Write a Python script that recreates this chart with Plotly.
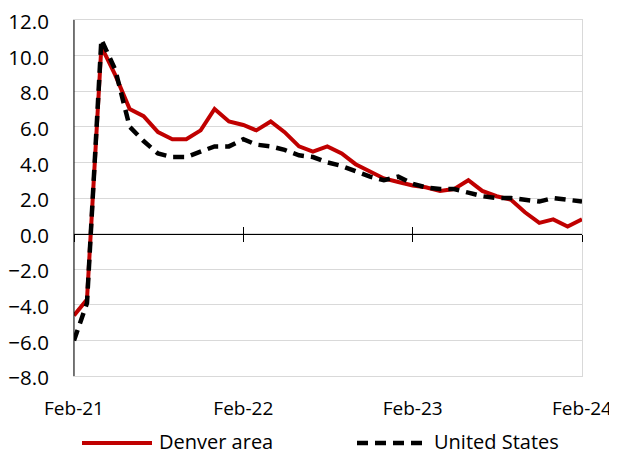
import plotly.graph_objects as go
import pandas as pd

months = pd.date_range("2021-02-01", "2024-02-01", freq="MS").strftime("%Y-%m-%d").tolist()

denver = [-4.6, -3.7, 10.5, 8.9, 7.0, 6.6, 5.7, 5.3, 5.3, 5.8, 7.0, 6.3,
          6.1, 5.8, 6.3, 5.7, 4.9, 4.6, 4.9, 4.5, 3.9, 3.5, 3.1, 2.9,
          2.7, 2.6, 2.4, 2.5, 3.0, 2.4, 2.1, 1.9, 1.2, 0.6, 0.8, 0.4, 0.8]
us = [-6.0, -3.9, 10.9, 9.2, 6.0, 5.2, 4.5, 4.3, 4.3, 4.6, 4.9, 4.9,
      5.3, 5.0, 4.9, 4.7, 4.4, 4.3, 4.0, 3.8, 3.5, 3.2, 3.0, 3.2,
      2.8, 2.6, 2.5, 2.5, 2.3, 2.1, 2.0, 2.0, 1.9, 1.8, 2.0, 1.9, 1.8]

series_names = ["Denver area", "United States"]
series_colors = ["#c00000", "black"]
x_ticks = ["2021-02-01", "2022-02-01", "2023-02-01", "2024-02-01"]
x_range = ["2021-02-01", "2024-02-01"]
y_range = [-8, 12]

# the page body adds an 8px margin, so the figure is sized to fill the rest
OFF = 8
W, H = 617 - OFF, 455 - OFF
ML, MR, MT, MB = 74 - OFF, 35, 20 - OFF, 79
PW, PH = W - ML - MR, H - MT - MB
FONT = "Open Sans"
DASH = "11px,7px"

fig = go.Figure()
fig.add_trace(go.Scatter(x=months, y=denver, name=series_names[0], mode="lines",
                         line=dict(color=series_colors[0], width=4)))
fig.add_trace(go.Scatter(x=months, y=us, name=series_names[1], mode="lines",
                         line=dict(color=series_colors[1], width=4.5, dash=DASH)))
# empty traces so the axis drawn through zero (with crossing ticks) is rendered
for ax in ["x2", "x3"]:
    fig.add_trace(go.Scatter(x=[], y=[], xaxis=ax, yaxis="y", showlegend=False,
                             hoverinfo="skip", mode="lines"))

zero_pos = (0 - y_range[0]) / (y_range[1] - y_range[0])

def px_x(p):  # screen pixel -> paper x
    return (p - OFF - ML) / PW

def px_y(p):  # screen pixel -> paper y
    return (H - MB - (p - OFF)) / PH

legend_y = px_y(441)
shapes = [
    dict(type="line", xref="paper", yref="paper", x0=0, x1=0, y0=0, y1=1,
         line=dict(color="black", width=1), layer="above"),
    dict(type="line", xref="paper", yref="paper", x0=px_x(82), x1=px_x(152),
         y0=px_y(443), y1=px_y(443), line=dict(color=series_colors[0], width=4)),
    dict(type="line", xref="paper", yref="paper", x0=px_x(357), x1=px_x(428),
         y0=px_y(443), y1=px_y(443),
         line=dict(color=series_colors[1], width=4.5, dash=DASH)),
]
annotations = [
    dict(xref="paper", yref="paper", x=px_x(157), y=legend_y, xanchor="left",
         yanchor="middle", text=series_names[0], showarrow=False,
         font=dict(size=20, family=FONT, color="black")),
    dict(xref="paper", yref="paper", x=px_x(432), y=legend_y, xanchor="left",
         yanchor="middle", text=series_names[1], showarrow=False,
         font=dict(size=20, family=FONT, color="black")),
]

fig.update_layout(
    width=W, height=H,
    margin=dict(l=ML, r=MR, t=MT, b=MB, autoexpand=False),
    paper_bgcolor="white", plot_bgcolor="white",
    font=dict(family=FONT, size=20, color="black"),
    showlegend=False,
    xaxis=dict(type="date", range=x_range, tickvals=x_ticks, tickformat="%b-%y",
               showgrid=False, zeroline=False, showline=True, linecolor="#d9d9d9",
               linewidth=1, mirror=True, ticks="", ticklabelstandoff=15,
               automargin=False, ticklabeloverflow="allow", tickfont=dict(size=19)),
    xaxis2=dict(type="date", range=x_range, tickvals=x_ticks, overlaying="x",
                anchor="free", position=zero_pos, showticklabels=False,
                showgrid=False, zeroline=False, showline=True, linecolor="black",
                linewidth=1, ticks="outside", ticklen=7, tickcolor="black", tickwidth=1,
                automargin=False),
    xaxis3=dict(type="date", range=x_range, tickvals=x_ticks, overlaying="x",
                anchor="free", position=zero_pos, showticklabels=False,
                showgrid=False, zeroline=False, showline=False,
                ticks="inside", ticklen=7, tickcolor="black", tickwidth=1,
                automargin=False),
    yaxis=dict(range=y_range, dtick=2, tick0=0, tickformat=".1f",
               showgrid=True, gridcolor="#d9d9d9", gridwidth=1, zeroline=False,
               showline=True, linecolor="#d9d9d9", mirror=True, ticks="",
               ticklabelstandoff=20, automargin=False, ticklabeloverflow="allow",
               ticklabelshift=2, tickfont=dict(size=20.5)),
    shapes=shapes,
    annotations=annotations,
)

fig.write_html("out.html")
